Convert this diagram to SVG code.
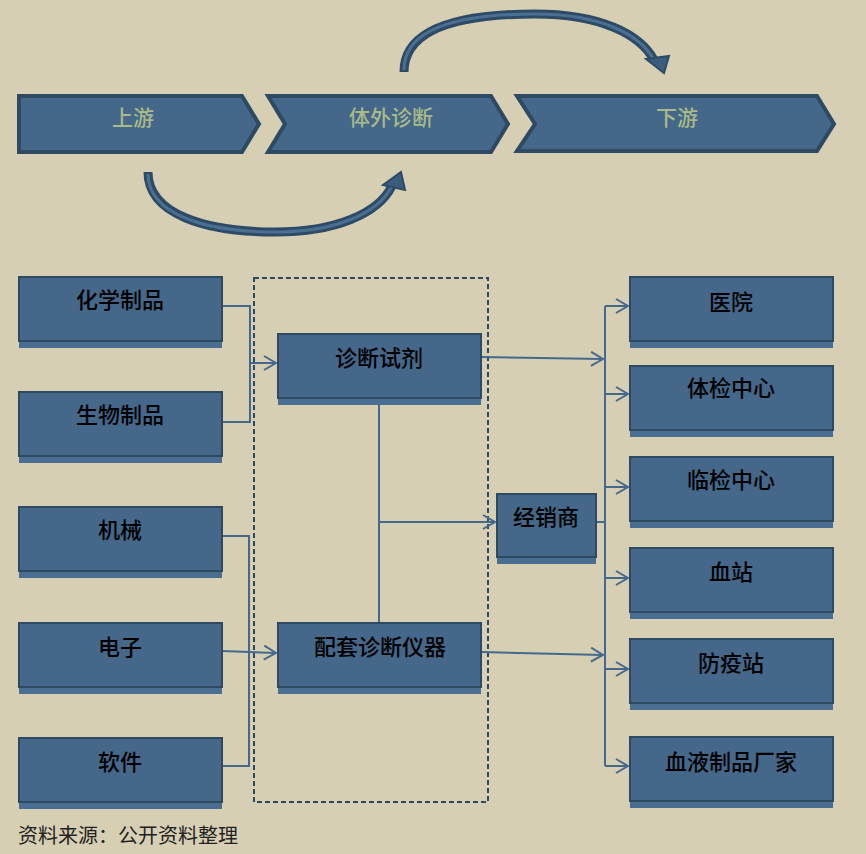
<svg xmlns="http://www.w3.org/2000/svg" width="866" height="854" viewBox="0 0 866 854">
<style>
.bg{fill:#D7CFB3}
.box{fill:#44678A;stroke:#2E4A63;stroke-width:2}
.sh{fill:#4A6E91}
.t{font-family:"Noto Sans CJK SC","Noto Sans",sans-serif;font-size:22px;fill:#000;text-anchor:middle;font-weight:500}
.ct{font-family:"Noto Sans CJK SC","Noto Sans",sans-serif;font-size:21px;fill:#A8BA88;text-anchor:middle;font-weight:500}
.chev{fill:#44678A;stroke:#2E4A63;stroke-width:4;stroke-linejoin:miter}
.c{fill:none;stroke:#44698D;stroke-width:2}
.arc{fill:none;stroke:#2E4B66;stroke-width:9}
.arcin{fill:none;stroke:#4A6F93;stroke-width:3}
.head{fill:#3A5C7D;stroke:#2E4B66;stroke-width:2;stroke-linejoin:miter}
</style>
<defs>
<marker id="ar" markerUnits="userSpaceOnUse" markerWidth="16" markerHeight="18" refX="13" refY="8" orient="auto">
<path d="M1,1 L13,8 L1,15" fill="none" stroke="#44698D" stroke-width="2"/>
</marker>
</defs>
<rect class="bg" x="0" y="0" width="866" height="854"/>

<g id="stages">
<g id="stage-upstream">
<polygon class="chev" points="19,96 242,96 259,124 242,152 19,152"/>
<text class="ct" x="133" y="125">上游</text>
</g>
<g id="stage-ivd">
<polygon class="chev" points="268,96 491,96 508,124 491,152 268,152 285,124"/>
<text class="ct" x="391" y="125">体外诊断</text>
</g>
<g id="stage-downstream">
<polygon class="chev" points="517,96 817,96 834,124 817,151 517,151 535,124"/>
<text class="ct" x="677" y="125">下游</text>
</g>
</g>

<g id="flow-arrows">
<path class="arc" d="M404,72 C404,28 460,14 535,14 C600,14 640,34 654,60"/>
<path class="arcin" d="M404,70 C404,28 460,14 535,14 C600,14 640,34 654,60"/>
<polygon class="head" points="646,59 669,56 664,73"/>
<path class="arc" d="M148,172 C148,214 205,232 275,232 C335,232 378,214 392,186"/>
<path class="arcin" d="M148,174 C148,214 205,232 275,232 C335,232 378,214 392,186"/>
<polygon class="head" points="383,185 405,190 401,172"/>
</g>

<g id="group-box">
<rect x="254" y="278" width="234" height="524" fill="none" stroke="#2E4A63" stroke-width="2" stroke-dasharray="5,3"/>
</g>

<g id="connectors">
<path class="c" d="M222,306 H250 V422 H222"/>
<path class="c" d="M250,363 H276" marker-end="url(#ar)"/>
<path class="c" d="M222,536 H249 V766 H222"/>
<path class="c" d="M222,651 L276,653" marker-end="url(#ar)"/>
<path class="c" d="M379,398 V622"/>
<path class="c" d="M379,522 H495" marker-end="url(#ar)"/>
<path class="c" d="M481,357 L603,359" marker-end="url(#ar)"/>
<path class="c" d="M482,652 L603,655" marker-end="url(#ar)"/>
<path class="c" d="M597,522 H605"/>
<path class="c" d="M605,306 V766"/>
<path class="c" d="M605,306 H628" marker-end="url(#ar)"/>
<path class="c" d="M605,394 H628" marker-end="url(#ar)"/>
<path class="c" d="M605,487 H628" marker-end="url(#ar)"/>
<path class="c" d="M605,578 H628" marker-end="url(#ar)"/>
<path class="c" d="M605,669 H628" marker-end="url(#ar)"/>
<path class="c" d="M605,766 H628" marker-end="url(#ar)"/>
</g>

<g id="n-chem"><rect class="sh" x="19" y="341" width="203" height="7"/><rect class="box" x="19" y="277" width="203" height="64"/><text class="t" x="120" y="308">化学制品</text></g>
<g id="n-bio"><rect class="sh" x="19" y="456" width="203" height="7"/><rect class="box" x="19" y="392" width="203" height="64"/><text class="t" x="120" y="423">生物制品</text></g>
<g id="n-mech"><rect class="sh" x="19" y="571" width="203" height="7"/><rect class="box" x="19" y="507" width="203" height="64"/><text class="t" x="120" y="538">机械</text></g>
<g id="n-elec"><rect class="sh" x="19" y="687" width="203" height="7"/><rect class="box" x="19" y="623" width="203" height="64"/><text class="t" x="120" y="655">电子</text></g>
<g id="n-soft"><rect class="sh" x="19" y="802" width="203" height="7"/><rect class="box" x="19" y="738" width="203" height="64"/><text class="t" x="120" y="770">软件</text></g>

<g id="n-reagent"><rect class="sh" x="278" y="398" width="203" height="7"/><rect class="box" x="278" y="334" width="203" height="64"/><text class="t" x="379" y="366">诊断试剂</text></g>
<g id="n-instr"><rect class="sh" x="278" y="687" width="203" height="7"/><rect class="box" x="278" y="623" width="203" height="64"/><text class="t" x="380" y="655">配套诊断仪器</text></g>

<g id="n-dist"><rect class="sh" x="497" y="557" width="99" height="7"/><rect class="box" x="497" y="494" width="99" height="63"/><text class="t" x="546" y="525">经销商</text></g>

<g id="n-hosp"><rect class="sh" x="630" y="341" width="203" height="7"/><rect class="box" x="630" y="277" width="203" height="64"/><text class="t" x="731" y="310">医院</text></g>
<g id="n-check"><rect class="sh" x="630" y="430" width="203" height="7"/><rect class="box" x="630" y="366" width="203" height="64"/><text class="t" x="731" y="396">体检中心</text></g>
<g id="n-clin"><rect class="sh" x="630" y="521" width="203" height="7"/><rect class="box" x="630" y="457" width="203" height="64"/><text class="t" x="731" y="488">临检中心</text></g>
<g id="n-blood"><rect class="sh" x="630" y="612" width="203" height="7"/><rect class="box" x="630" y="548" width="203" height="64"/><text class="t" x="731" y="580">血站</text></g>
<g id="n-cdc"><rect class="sh" x="630" y="703" width="203" height="7"/><rect class="box" x="630" y="639" width="203" height="64"/><text class="t" x="731" y="671">防疫站</text></g>
<g id="n-plasma"><rect class="sh" x="630" y="801" width="203" height="7"/><rect class="box" x="630" y="737" width="203" height="64"/><text class="t" x="731" y="770">血液制品厂家</text></g>

<text x="18" y="843" font-family="'Noto Sans CJK SC','Noto Sans',sans-serif" font-size="20" fill="#222">资料来源：公开资料整理</text>
</svg>
